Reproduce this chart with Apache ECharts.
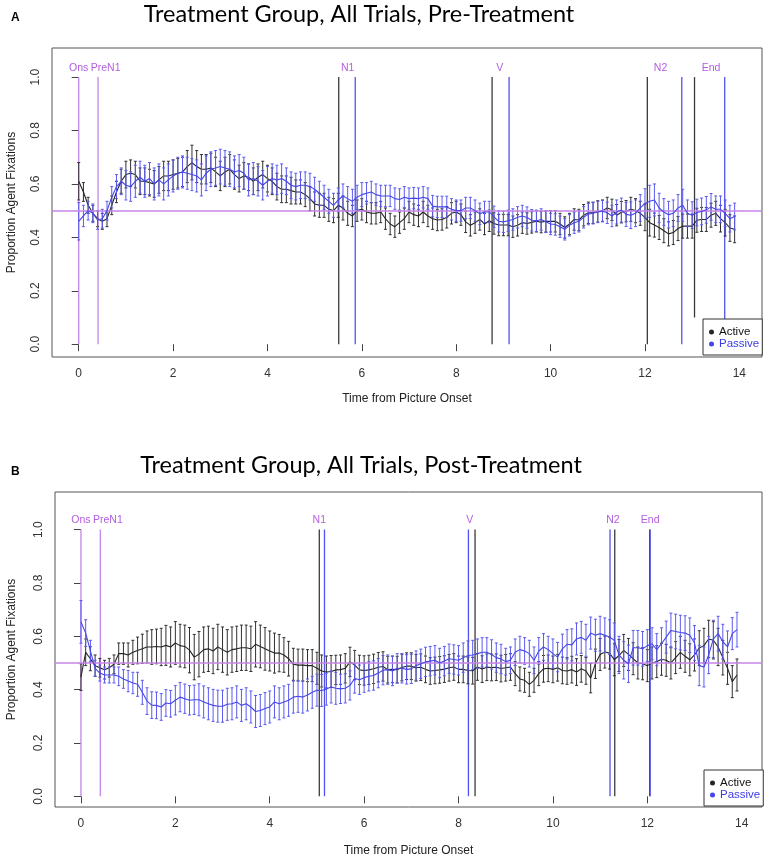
<!DOCTYPE html>
<html>
<head>
<meta charset="utf-8">
<title>Treatment Group, All Trials</title>
<script src="https://cdn.jsdelivr.net/npm/echarts@6/dist/echarts.min.js"></script>
<style>
  html, body { margin: 0; padding: 0; background: #fff; }
  #main { width: 767px; height: 859px; }
</style>
</head>
<body>
<div id="main"></div>
<script>
// sample times (s from picture onset)
const times = [
  0, 0.1, 0.2, 0.3, 0.4, 0.5, 0.6, 0.7, 0.8, 0.9,
  1, 1.1, 1.2, 1.3, 1.4, 1.5, 1.6, 1.7, 1.8, 1.9,
  2, 2.1, 2.2, 2.3, 2.4, 2.5, 2.6, 2.7, 2.8, 2.9,
  3, 3.1, 3.2, 3.3, 3.4, 3.5, 3.6, 3.7, 3.8, 3.9,
  4, 4.1, 4.2, 4.3, 4.4, 4.5, 4.6, 4.7, 4.8, 4.9,
  5, 5.1, 5.2, 5.3, 5.4, 5.5, 5.6, 5.7, 5.8, 5.9,
  6, 6.1, 6.2, 6.3, 6.4, 6.5, 6.6, 6.7, 6.8, 6.9,
  7, 7.1, 7.2, 7.3, 7.4, 7.5, 7.6, 7.7, 7.8, 7.9,
  8, 8.1, 8.2, 8.3, 8.4, 8.5, 8.6, 8.7, 8.8, 8.9,
  9, 9.1, 9.2, 9.3, 9.4, 9.5, 9.6, 9.7, 9.8, 9.9,
  10, 10.1, 10.2, 10.3, 10.4, 10.5, 10.6, 10.7, 10.8, 10.9,
  11, 11.1, 11.2, 11.3, 11.4, 11.5, 11.6, 11.7, 11.8, 11.9,
  12, 12.1, 12.2, 12.3, 12.4, 12.5, 12.6, 12.7, 12.8, 12.9,
  13, 13.1, 13.2, 13.3, 13.4, 13.5, 13.6, 13.7, 13.8, 13.9
];

// A: pre-treatment
const activePre = [
  0.61, 0.57, 0.52, 0.49, 0.47, 0.46, 0.47, 0.52, 0.57, 0.61,
  0.635, 0.64, 0.635, 0.61, 0.61, 0.605, 0.60, 0.615, 0.63, 0.63,
  0.635, 0.64, 0.645, 0.665, 0.68, 0.665, 0.655, 0.655, 0.66, 0.645,
  0.63, 0.645, 0.655, 0.635, 0.62, 0.63, 0.625, 0.61, 0.625, 0.635,
  0.62, 0.61, 0.59, 0.58, 0.58, 0.575, 0.57, 0.57, 0.56, 0.545,
  0.525, 0.52, 0.52, 0.505, 0.50, 0.52, 0.51, 0.49, 0.48, 0.50,
  0.505, 0.495, 0.49, 0.49, 0.495, 0.47, 0.45, 0.44, 0.455, 0.47,
  0.495, 0.485, 0.48, 0.495, 0.48, 0.47, 0.465, 0.467, 0.475, 0.49,
  0.495, 0.485, 0.458, 0.445, 0.455, 0.467, 0.45, 0.462, 0.452, 0.446,
  0.446, 0.446, 0.44, 0.445, 0.455, 0.452, 0.456, 0.46, 0.457, 0.46,
  0.46, 0.46, 0.45, 0.437, 0.45, 0.467, 0.465, 0.483, 0.492, 0.492,
  0.497, 0.50, 0.51, 0.503, 0.483, 0.494, 0.498, 0.505, 0.50, 0.49,
  0.475, 0.455, 0.446, 0.437, 0.425, 0.413, 0.418, 0.433, 0.442, 0.442,
  0.442, 0.464, 0.467, 0.467, 0.483, 0.49, 0.47, 0.455, 0.435, 0.43
];
const activePreSE = [
  0.07, 0.035, 0.03, 0.03, 0.03, 0.03, 0.03, 0.035, 0.04, 0.045,
  0.05, 0.05, 0.05, 0.05, 0.05, 0.05, 0.05, 0.05, 0.055, 0.055,
  0.055, 0.055, 0.055, 0.06, 0.065, 0.06, 0.055, 0.055, 0.055, 0.055,
  0.055, 0.055, 0.055, 0.055, 0.05, 0.05, 0.05, 0.05, 0.05, 0.05,
  0.05, 0.05, 0.05, 0.05, 0.05, 0.05, 0.045, 0.045, 0.045, 0.045,
  0.045, 0.045, 0.045, 0.045, 0.045, 0.045, 0.045, 0.045, 0.04, 0.04,
  0.04, 0.04, 0.04, 0.04, 0.04, 0.04, 0.04, 0.04, 0.04, 0.04,
  0.04, 0.04, 0.04, 0.04, 0.04, 0.04, 0.04, 0.04, 0.04, 0.04,
  0.04, 0.04, 0.04, 0.04, 0.04, 0.04, 0.04, 0.04, 0.04, 0.04,
  0.04, 0.04, 0.04, 0.04, 0.04, 0.04, 0.04, 0.04, 0.04, 0.04,
  0.04, 0.04, 0.04, 0.04, 0.04, 0.04, 0.04, 0.04, 0.04, 0.04,
  0.04, 0.04, 0.04, 0.04, 0.04, 0.04, 0.04, 0.045, 0.045, 0.045,
  0.05, 0.05, 0.045, 0.045, 0.045, 0.045, 0.045, 0.045, 0.045, 0.045,
  0.045, 0.045, 0.045, 0.045, 0.045, 0.045, 0.05, 0.05, 0.05, 0.05
];
const passivePre = [
  0.46, 0.48, 0.50, 0.49, 0.465, 0.47, 0.50, 0.55, 0.59, 0.61,
  0.595, 0.59, 0.61, 0.625, 0.61, 0.62, 0.60, 0.615, 0.60, 0.615,
  0.63, 0.64, 0.645, 0.64, 0.635, 0.63, 0.615, 0.64, 0.655, 0.66,
  0.665, 0.66, 0.655, 0.645, 0.65, 0.64, 0.615, 0.62, 0.61, 0.595,
  0.61, 0.62, 0.615, 0.62, 0.61, 0.595, 0.59, 0.595, 0.595, 0.59,
  0.58, 0.565, 0.55, 0.535, 0.52, 0.54, 0.555, 0.545, 0.535, 0.55,
  0.56, 0.565, 0.57, 0.56, 0.555, 0.555, 0.555, 0.545, 0.542, 0.55,
  0.545, 0.547, 0.545, 0.55, 0.545, 0.517, 0.514, 0.514, 0.514, 0.505,
  0.50, 0.50, 0.51, 0.51, 0.50, 0.488, 0.495, 0.495, 0.477, 0.46,
  0.458, 0.462, 0.467, 0.475, 0.48, 0.474, 0.464, 0.462, 0.467, 0.458,
  0.45, 0.448, 0.44, 0.43, 0.445, 0.455, 0.46, 0.475, 0.487, 0.49,
  0.495, 0.498, 0.492, 0.48, 0.495, 0.502, 0.486, 0.483, 0.49, 0.51,
  0.527, 0.535, 0.54, 0.51, 0.495, 0.485, 0.49, 0.51, 0.52, 0.49,
  0.483, 0.493, 0.497, 0.503, 0.514, 0.505, 0.505, 0.49, 0.47, 0.478
];
const passivePreSE = [
  0.07, 0.04, 0.035, 0.035, 0.035, 0.035, 0.035, 0.04, 0.045, 0.05,
  0.055, 0.055, 0.06, 0.06, 0.06, 0.06, 0.06, 0.06, 0.06, 0.06,
  0.06, 0.06, 0.06, 0.06, 0.06, 0.06, 0.06, 0.065, 0.065, 0.065,
  0.065, 0.065, 0.065, 0.06, 0.06, 0.06, 0.06, 0.06, 0.055, 0.055,
  0.055, 0.055, 0.055, 0.055, 0.05, 0.05, 0.05, 0.05, 0.05, 0.05,
  0.045, 0.045, 0.045, 0.045, 0.045, 0.045, 0.045, 0.045, 0.045, 0.045,
  0.045, 0.04, 0.04, 0.04, 0.04, 0.04, 0.04, 0.04, 0.04, 0.04,
  0.04, 0.04, 0.04, 0.04, 0.04, 0.04, 0.04, 0.04, 0.04, 0.04,
  0.04, 0.04, 0.04, 0.04, 0.04, 0.04, 0.04, 0.04, 0.04, 0.04,
  0.04, 0.04, 0.04, 0.04, 0.04, 0.04, 0.04, 0.04, 0.04, 0.04,
  0.04, 0.04, 0.04, 0.04, 0.04, 0.04, 0.04, 0.04, 0.04, 0.04,
  0.04, 0.04, 0.04, 0.04, 0.045, 0.045, 0.045, 0.05, 0.05, 0.05,
  0.055, 0.06, 0.06, 0.055, 0.05, 0.05, 0.05, 0.05, 0.06, 0.05,
  0.05, 0.05, 0.05, 0.05, 0.05, 0.05, 0.05, 0.05, 0.05, 0.05
];

// B: post-treatment
const activePost = [
  0.447, 0.54, 0.516, 0.49, 0.482, 0.475, 0.482, 0.495, 0.535, 0.535,
  0.53, 0.54, 0.547, 0.553, 0.56, 0.56, 0.562, 0.56, 0.566, 0.56,
  0.575, 0.565, 0.562, 0.548, 0.522, 0.533, 0.55, 0.553, 0.545, 0.56,
  0.55, 0.54, 0.55, 0.553, 0.557, 0.557, 0.553, 0.57, 0.562, 0.553,
  0.545, 0.537, 0.537, 0.53, 0.516, 0.495, 0.492, 0.492, 0.49, 0.49,
  0.48, 0.47, 0.466, 0.468, 0.474, 0.475, 0.48, 0.504, 0.492, 0.474,
  0.472, 0.474, 0.478, 0.484, 0.487, 0.475, 0.476, 0.475, 0.483, 0.488,
  0.488, 0.482, 0.484, 0.476, 0.47, 0.472, 0.474, 0.477, 0.482, 0.485,
  0.476, 0.476, 0.472, 0.471, 0.485, 0.477, 0.484, 0.483, 0.484, 0.479,
  0.482, 0.485, 0.46, 0.44, 0.435, 0.42, 0.435, 0.46, 0.478, 0.48,
  0.476, 0.482, 0.472, 0.47, 0.475, 0.466, 0.478, 0.47, 0.443, 0.497,
  0.532, 0.541, 0.537, 0.512, 0.528, 0.547, 0.532, 0.516, 0.50, 0.497,
  0.49, 0.50, 0.505, 0.514, 0.51, 0.50, 0.52, 0.54, 0.525, 0.512,
  0.53, 0.556, 0.565, 0.59, 0.585, 0.56, 0.52, 0.48, 0.43, 0.455
];
const activePostSE = [
  0.05, 0.05, 0.045, 0.04, 0.035, 0.035, 0.035, 0.035, 0.04, 0.04,
  0.045, 0.045, 0.05, 0.055, 0.06, 0.065, 0.065, 0.07, 0.075, 0.075,
  0.08, 0.08, 0.08, 0.085, 0.085, 0.085, 0.085, 0.085, 0.085, 0.085,
  0.085, 0.085, 0.085, 0.085, 0.085, 0.085, 0.085, 0.085, 0.08, 0.08,
  0.075, 0.075, 0.07, 0.065, 0.065, 0.06, 0.06, 0.06, 0.06, 0.06,
  0.06, 0.06, 0.06, 0.06, 0.055, 0.055, 0.055, 0.055, 0.055, 0.055,
  0.055, 0.055, 0.055, 0.055, 0.055, 0.05, 0.05, 0.05, 0.05, 0.05,
  0.05, 0.05, 0.05, 0.05, 0.05, 0.05, 0.05, 0.05, 0.05, 0.05,
  0.05, 0.05, 0.05, 0.05, 0.05, 0.05, 0.05, 0.05, 0.05, 0.05,
  0.05, 0.05, 0.045, 0.045, 0.045, 0.045, 0.045, 0.045, 0.05, 0.05,
  0.05, 0.05, 0.05, 0.05, 0.05, 0.05, 0.05, 0.05, 0.055, 0.055,
  0.06, 0.06, 0.06, 0.06, 0.06, 0.06, 0.06, 0.06, 0.06, 0.06,
  0.06, 0.06, 0.06, 0.06, 0.06, 0.06, 0.06, 0.06, 0.06, 0.06,
  0.06, 0.065, 0.065, 0.07, 0.07, 0.07, 0.065, 0.06, 0.06, 0.06
];
const passivePost = [
  0.654, 0.612, 0.545, 0.48, 0.462, 0.455, 0.455, 0.455, 0.45, 0.44,
  0.432, 0.425, 0.42, 0.39, 0.357, 0.342, 0.341, 0.335, 0.35, 0.347,
  0.36, 0.372, 0.366, 0.36, 0.362, 0.362, 0.354, 0.347, 0.341, 0.338,
  0.338, 0.345, 0.347, 0.354, 0.341, 0.347, 0.335, 0.318, 0.322, 0.329,
  0.335, 0.354, 0.347, 0.354, 0.36, 0.372, 0.375, 0.372, 0.38, 0.39,
  0.398, 0.397, 0.402, 0.41, 0.405, 0.403, 0.405, 0.416, 0.442, 0.437,
  0.445, 0.45, 0.453, 0.462, 0.473, 0.475, 0.47, 0.48, 0.48, 0.476,
  0.478, 0.49, 0.497, 0.504, 0.507, 0.51, 0.50, 0.507, 0.516, 0.513,
  0.51, 0.52, 0.528, 0.53, 0.535, 0.54, 0.54, 0.532, 0.52, 0.515,
  0.505, 0.51, 0.54, 0.55, 0.545, 0.535, 0.51, 0.545, 0.56, 0.55,
  0.535, 0.522, 0.553, 0.57, 0.568, 0.59, 0.596, 0.585, 0.612, 0.604,
  0.61, 0.604, 0.597, 0.585, 0.53, 0.51, 0.497, 0.557, 0.557, 0.553,
  0.565, 0.572, 0.55, 0.572, 0.597, 0.622, 0.618, 0.614, 0.612, 0.604,
  0.575, 0.49, 0.485, 0.53, 0.59, 0.61, 0.58, 0.56, 0.61, 0.625
];
const passivePostSE = [
  0.08, 0.05, 0.04, 0.03, 0.03, 0.03, 0.03, 0.03, 0.035, 0.035,
  0.04, 0.04, 0.045, 0.045, 0.05, 0.05, 0.05, 0.05, 0.05, 0.05,
  0.055, 0.055, 0.055, 0.055, 0.055, 0.06, 0.06, 0.06, 0.06, 0.06,
  0.06, 0.06, 0.06, 0.06, 0.06, 0.06, 0.06, 0.06, 0.06, 0.06,
  0.06, 0.06, 0.06, 0.06, 0.06, 0.06, 0.06, 0.06, 0.06, 0.06,
  0.06, 0.06, 0.06, 0.06, 0.06, 0.055, 0.055, 0.055, 0.055, 0.055,
  0.055, 0.055, 0.055, 0.055, 0.055, 0.055, 0.055, 0.055, 0.055, 0.055,
  0.055, 0.055, 0.055, 0.055, 0.055, 0.055, 0.055, 0.055, 0.055, 0.055,
  0.055, 0.055, 0.055, 0.055, 0.055, 0.055, 0.055, 0.055, 0.055, 0.055,
  0.05, 0.05, 0.05, 0.05, 0.05, 0.05, 0.05, 0.05, 0.05, 0.05,
  0.055, 0.055, 0.055, 0.055, 0.06, 0.06, 0.06, 0.06, 0.06, 0.06,
  0.065, 0.065, 0.065, 0.065, 0.07, 0.07, 0.07, 0.065, 0.065, 0.065,
  0.06, 0.06, 0.06, 0.06, 0.06, 0.065, 0.065, 0.065, 0.065, 0.065,
  0.065, 0.075, 0.075, 0.07, 0.07, 0.065, 0.065, 0.06, 0.06, 0.065
];

// sentence cues: times for the active / passive sentences
const cueNames = ["Ons", "PreN1", "N1", "V", "N2", "End"];
const cueActivePre = [0, 0.41, 5.51, 8.76, 12.05, 13.05];
const cuePassivePre = [0, 0.41, 5.86, 9.12, 12.78, 13.69];
const cueLabelPre = [0, 0.57, 5.7, 8.92, 12.33, 13.4];
const cueActivePost = [0, 0.41, 5.05, 8.35, 11.31, 12.05];
const cuePassivePost = [0, 0.41, 5.16, 8.21, 11.21, 12.06];
const cueLabelPost = [0, 0.57, 5.05, 8.24, 11.27, 12.06];
const endActivePreBottom = 0.1;

const yTicks = [0, 0.2, 0.4, 0.6, 0.8, 1.0];
const xTicks = [0, 2, 4, 6, 8, 10, 12, 14];
const chance = 0.5;

const BLACK = "#262626";
const BLUE = "#4646e8";
const BLUE_BAR = "#5a5af0";
const PURPLE = "#c585e8";
const PURPLE_TEXT = "#b25ddf";
const FONT = "Liberation Sans, Arial, sans-serif";

const chart = echarts.init(document.getElementById("main"));

const errData = (mean, se) => times.map((t, i) => [t, mean[i] - se[i], mean[i] + se[i]]);
const lineData = (mean) => times.map((t, i) => [t, mean[i]]);

const errRender = (color) => (params, api) => {
  const t = api.value(0);
  const lo = api.coord([t, api.value(1)]);
  const hi = api.coord([t, api.value(2)]);
  const st = { stroke: color, lineWidth: 1 };
  return {
    type: "group",
    children: [
      { type: "line", shape: { x1: lo[0], y1: lo[1], x2: hi[0], y2: hi[1] }, style: st },
      { type: "line", shape: { x1: lo[0] - 1.5, y1: lo[1], x2: lo[0] + 1.5, y2: lo[1] }, style: st },
      { type: "line", shape: { x1: hi[0] - 1.5, y1: hi[1], x2: hi[0] + 1.5, y2: hi[1] }, style: st },
    ],
  };
};

// cue lines: [t, bottom, top, kind] kind 0 = shared (purple), 1 = active, 2 = passive
const cueLines = (act, pas, endBottom) => {
  const out = [];
  act.forEach((t, i) => {
    if (i < 2) {
      out.push([t, 0, 1, 0]);
    } else {
      out.push([t, i === act.length - 1 && endBottom != null ? endBottom : 0, 1, 1]);
      out.push([pas[i], 0, 1, 2]);
    }
  });
  return out;
};
const cueColors = [PURPLE, "#3a3a3a", "#5252ee"];
const cueRender = (params, api) => {
  const t = api.value(0);
  const a = api.coord([t, api.value(1)]);
  const b = api.coord([t, api.value(2)]);
  return {
    type: "line",
    shape: { x1: a[0], y1: a[1], x2: b[0], y2: b[1] },
    style: { stroke: cueColors[api.value(3)], lineWidth: 1.3 },
  };
};
const labelRender = (params, api) => {
  const p = api.coord([api.value(0), 1.035]);
  return {
    type: "text",
    x: p[0],
    y: p[1],
    style: {
      text: cueNames[params.dataIndex],
      fill: PURPLE_TEXT,
      font: "10.5px " + FONT,
      align: "center",
      verticalAlign: "middle",
    },
  };
};

const panel = (idx, act, actSE, pas, pasSE, cueA, cueP, cueL, endBottom) => [
  {
    name: "cues" + idx, type: "custom", xAxisIndex: idx, yAxisIndex: idx, z: 1,
    data: cueLines(cueA, cueP, endBottom), renderItem: cueRender, silent: true,
  },
  {
    name: "labels" + idx, type: "custom", xAxisIndex: idx, yAxisIndex: idx, z: 1,
    data: cueL.map((t) => [t]), renderItem: labelRender, silent: true,
  },
  {
    name: "Active SE", type: "custom", xAxisIndex: idx, yAxisIndex: idx, z: 2,
    data: errData(act, actSE), renderItem: errRender("#303030"), silent: true,
  },
  {
    name: "Active", type: "line", xAxisIndex: idx, yAxisIndex: idx, z: 3,
    data: lineData(act), showSymbol: false, color: BLACK,
    lineStyle: { width: 1.1, color: BLACK }, silent: true,
  },
  {
    name: "Passive SE", type: "custom", xAxisIndex: idx, yAxisIndex: idx, z: 4,
    data: errData(pas, pasSE), renderItem: errRender(BLUE_BAR), silent: true,
  },
  {
    name: "Passive", type: "line", xAxisIndex: idx, yAxisIndex: idx, z: 5,
    data: lineData(pas), showSymbol: false, color: BLUE,
    lineStyle: { width: 1.1, color: BLUE }, silent: true,
    markLine: {
      silent: true, symbol: "none", label: { show: false },
      lineStyle: { color: PURPLE, width: 1.6, type: "solid" },
      data: [{ yAxis: chance }],
    },
  },
];

const xAxis = (idx, min, max, gap) => ({
  type: "value", gridIndex: idx, min: min, max: max,
  name: "Time from Picture Onset", nameLocation: "middle", nameGap: gap,
  nameTextStyle: { fontFamily: FONT, fontSize: 12, color: "#222" },
  axisLine: { show: false },
  axisTick: { show: true, inside: false, length: 7, customValues: xTicks, lineStyle: { color: "#444" } },
  axisLabel: { customValues: xTicks, margin: 11, fontFamily: FONT, fontSize: 12, color: "#333" },
  splitLine: { show: false },
});
const yAxis = (idx, min, max, gap) => ({
  type: "value", gridIndex: idx, min: min, max: max,
  name: "Proportion Agent Fixations", nameLocation: "middle", nameGap: gap,
  nameTextStyle: { fontFamily: FONT, fontSize: 12, color: "#222" },
  axisLine: { show: false },
  axisTick: { show: true, inside: false, length: 7, customValues: yTicks, lineStyle: { color: "#444" } },
  axisLabel: {
    customValues: yTicks, rotate: 90, margin: 10, fontFamily: FONT, fontSize: 12, color: "#333",
    formatter: (v) => v.toFixed(1),
  },
  splitLine: { show: false },
});
const legend = (left, top) => ({
  left: left, top: top, orient: "vertical", icon: "circle",
  itemWidth: 5, itemHeight: 5, itemGap: 0, itemTextGap: 5,
  padding: [7, 3, 5, 6], borderColor: "#333", borderWidth: 1, backgroundColor: "#fff",
  selectedMode: false,
  textStyle: { fontFamily: FONT, fontSize: 11.5 },
  data: [
    { name: "Active", textStyle: { color: "#111" } },
    { name: "Passive", textStyle: { color: "#3b3be6" } },
  ],
});

chart.setOption({
  animation: false,
  backgroundColor: "#fff",
  title: [
    { text: "Treatment Group, All Trials, Pre-Treatment", left: 359, top: 2, textAlign: "center", padding: 0,
      textStyle: { fontFamily: "Lato, Open Sans, sans-serif", fontSize: 23.5, fontWeight: "normal", color: "#000" } },
    { text: "A", left: 11, top: 12, padding: 0,
      textStyle: { fontFamily: FONT, fontSize: 12, fontWeight: "bold", color: "#000" } },
    { text: "Treatment Group, All Trials, Post-Treatment", left: 361, top: 453, textAlign: "center", padding: 0,
      textStyle: { fontFamily: "Lato, Open Sans, sans-serif", fontSize: 23.5, fontWeight: "normal", color: "#000" } },
    { text: "B", left: 11, top: 466, padding: 0,
      textStyle: { fontFamily: FONT, fontSize: 12, fontWeight: "bold", color: "#000" } },
  ],
  legend: [legend(703, 319), legend(704, 770)],
  grid: [
    { left: 52, top: 48, width: 710, height: 309, outerBoundsMode: "none", show: true, borderColor: "#555", borderWidth: 1, backgroundColor: "transparent" },
    { left: 55, top: 492, width: 707, height: 315, outerBoundsMode: "none", show: true, borderColor: "#555", borderWidth: 1, backgroundColor: "transparent" },
  ],
  xAxis: [xAxis(0, -0.566, 14.48, 36), xAxis(1, -0.55, 14.43, 38)],
  yAxis: [yAxis(0, -0.048, 1.109, 34), yAxis(1, -0.04, 1.141, 37)],
  series: [
    ...panel(0, activePre, activePreSE, passivePre, passivePreSE, cueActivePre, cuePassivePre, cueLabelPre, endActivePreBottom),
    ...panel(1, activePost, activePostSE, passivePost, passivePostSE, cueActivePost, cuePassivePost, cueLabelPost, null),
  ],
});
</script>
</body>
</html>
